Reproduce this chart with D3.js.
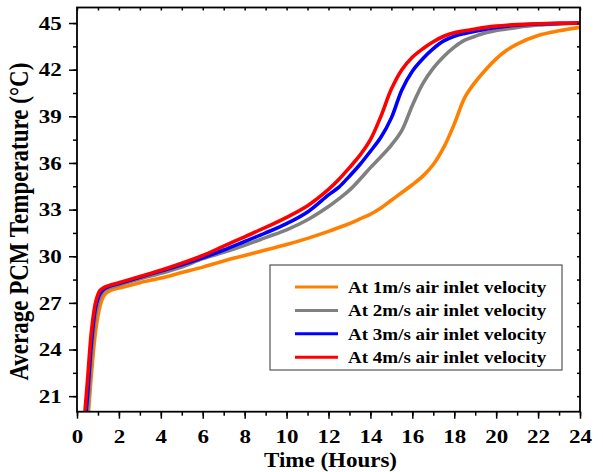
<!DOCTYPE html>
<html><head><meta charset="utf-8">
<script src="https://cdn.jsdelivr.net/npm/d3@7"></script>
<style>body{margin:0;background:#fff}svg{display:block}text{font-family:"Liberation Serif","Times New Roman",serif;font-weight:bold;fill:#000}</style>
</head><body><svg id="c" width="603" height="472"></svg>
<script>
const times = [0.3,0.5,0.7,0.9,1.1,1.3,1.6,2,3,4,5,6,7,8,9,10,11,12,12.5,13,13.5,14,14.5,15,15.5,16,16.5,17,17.5,18,18.5,19,19.5,20,20.5,21,22,23,24];
const v1 = [16.5,19.2,22.6,25.3,26.8,27.5,27.8,27.95,28.3,28.6,28.95,29.3,29.7,30.05,30.4,30.75,31.15,31.6,31.85,32.1,32.4,32.7,33.1,33.6,34.1,34.6,35.15,35.9,37.0,38.5,40.2,41.2,42.0,42.7,43.25,43.65,44.2,44.5,44.72];
const v2 = [17.5,20.0,23.8,26.3,27.4,27.8,28.0,28.15,28.55,28.9,29.3,29.85,30.25,30.7,31.2,31.7,32.35,33.2,33.7,34.25,34.95,35.7,36.4,37.15,38.1,39.7,41.1,42.1,42.85,43.45,43.9,44.15,44.37,44.52,44.62,44.72,44.87,44.95,45.0];
const v3 = [18.0,21.0,24.6,26.8,27.6,27.9,28.1,28.25,28.65,29.05,29.45,29.9,30.4,30.95,31.5,32.1,32.85,33.95,34.45,35.15,35.9,36.75,37.65,38.9,40.7,41.9,42.7,43.35,43.85,44.15,44.33,44.47,44.6,44.72,44.8,44.86,44.94,44.98,45.0];
const v4 = [18.7,22.0,25.3,27.1,27.8,28.0,28.15,28.3,28.7,29.1,29.55,30.05,30.65,31.25,31.85,32.5,33.25,34.3,34.95,35.7,36.5,37.5,39.0,40.75,42.0,42.8,43.35,43.8,44.15,44.38,44.5,44.62,44.72,44.8,44.86,44.9,44.95,44.98,45.0];
const seriesNames = ["At 1m/s air inlet velocity","At 2m/s air inlet velocity","At 3m/s air inlet velocity","At 4m/s air inlet velocity"];
const seriesColors = ["#FF8000","#808080","#0000FF","#FF0000"];
const xTicks = [0,2,4,6,8,10,12,14,16,18,20,22,24];
const yTicks = [21,24,27,30,33,36,39,42,45];
const xLabel = "Time (Hours)";
const yLabel = "Average PCM Temperature (\u00B0C)";

const svg = d3.select("#c");
const L=77,R=580,T=7.5,B=411.7;
const x = d3.scaleLinear().domain([0,24]).range([L,R]);
const y = d3.scaleLinear().domain([20,46]).range([B,T]);

svg.append("clipPath").attr("id","cp").append("rect").attr("x",L).attr("y",T).attr("width",R-L).attr("height",B-T);

const allVals=[v1,v2,v3,v4];
const line = d3.line().x(d=>x(d[0])).y(d=>y(d[1])).curve(d3.curveCatmullRom.alpha(0.5));
const g = svg.append("g").attr("clip-path","url(#cp)");
allVals.forEach((vals,i)=>{
  g.append("path").datum(times.map((t,j)=>[t,vals[j]]))
   .attr("d",line).attr("fill","none").attr("stroke",seriesColors[i]).attr("stroke-width",3.6).attr("stroke-linejoin","round");
});

// axes
const minorX = d3.range(0,25,1);
const minorY = d3.range(21,46,1.5);
const bx = svg.append("g").attr("transform",`translate(0,${B})`)
  .call(d3.axisBottom(x).tickValues(minorX).tickSize(4).tickFormat(""));
const bx2 = svg.append("g").attr("transform",`translate(0,${B})`)
  .call(d3.axisBottom(x).tickValues(xTicks).tickSize(7).tickPadding(10).tickFormat(d3.format("d")));
const ly = svg.append("g").attr("transform",`translate(${L},0)`)
  .call(d3.axisLeft(y).tickValues(minorY).tickSize(4).tickFormat(""));
const ly2 = svg.append("g").attr("transform",`translate(${L},0)`)
  .call(d3.axisLeft(y).tickValues(yTicks).tickSize(8).tickPadding(5).tickFormat(d3.format("d")));
const tx = svg.append("g").attr("transform",`translate(0,${T})`)
  .call(d3.axisBottom(x).tickValues(minorX).tickSize(3).tickFormat(""));
const ry = svg.append("g").attr("transform",`translate(${R},0)`)
  .call(d3.axisLeft(y).tickValues(minorY).tickSize(3).tickFormat(""));
[bx,bx2,ly,ly2,tx,ry].forEach(a=>{a.select(".domain").remove();a.selectAll("line").attr("stroke","#000").attr("stroke-width",1.5);});
[bx2,ly2].forEach(a=>a.selectAll("text").style("font-size","19.5px").style("font-family","'Liberation Serif',serif").style("font-weight","bold").attr("transform","scale(1.18,1)"));

svg.append("rect").attr("x",L).attr("y",T).attr("width",R-L).attr("height",B-T).attr("fill","none").attr("stroke","#000").attr("stroke-width",1.8);

svg.append("text").attr("transform",`translate(${(L+R)/2+2},467) scale(1.15,1)`).attr("text-anchor","middle").style("font-size","20px").text(xLabel);
svg.append("text").attr("transform",`translate(28,${(T+B)/2+12}) rotate(-90) scale(1,1.15)`).attr("text-anchor","middle").style("font-size","23px").text(yLabel);

// legend
const lg = svg.append("g");
lg.append("rect").attr("x",270).attr("y",265).attr("width",292).attr("height",105).attr("fill","#fff").attr("stroke","#333").attr("stroke-width",1);
seriesNames.forEach((n,i)=>{
  const yy = 287 + i*23.4;
  lg.append("line").attr("x1",295).attr("x2",338).attr("y1",yy).attr("y2",yy).attr("stroke",seriesColors[i]).attr("stroke-width",3);
  lg.append("text").attr("transform",`translate(348,${yy}) scale(1.12,1)`).attr("dy","0.35em").style("font-size","17px").text(n);
});
</script></body></html>
